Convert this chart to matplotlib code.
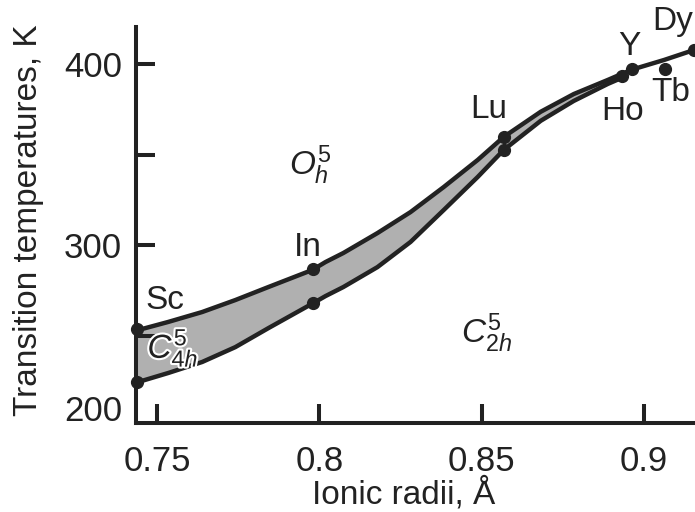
import numpy as np
import matplotlib
matplotlib.use("Agg")
import matplotlib.pyplot as plt
import matplotlib.patheffects as pe

plt.rcParams["font.family"] = ["Liberation Sans", "DejaVu Sans"]
plt.rcParams["mathtext.fontset"] = "custom"
plt.rcParams["mathtext.rm"] = "Liberation Sans"
plt.rcParams["mathtext.it"] = "Liberation Sans:italic"

INK = "#222222"
FILL = "#b0b0b0"

# upper boundary (O_h <-> C_4h)
upper_x = [0.7441, 0.7534, 0.7639, 0.7741, 0.7843, 0.7978, 0.8019, 0.8074,
           0.8179, 0.8281, 0.8383, 0.8488, 0.8568, 0.8682, 0.8784, 0.8889,
           0.8938, 0.8969, 0.9062, 0.9154]
upper_y = [253.0, 257.5, 263.0, 269.6, 276.8, 286.2, 290.6, 295.6,
           306.6, 318.2, 332.0, 347.0, 359.7, 373.6, 383.4, 391.2,
           395.0, 397.2, 402.2, 407.7]

# lower boundary (C_4h <-> C_2h)
lower_x = [0.7441, 0.7534, 0.7639, 0.7741, 0.7843, 0.7982, 0.8019, 0.8074,
           0.8179, 0.8281, 0.8383, 0.8488, 0.8568, 0.8682, 0.8784, 0.8889,
           0.8938]
lower_y = [224.3, 229.3, 235.4, 243.6, 254.1, 268.0, 271.8, 276.8,
           287.8, 301.7, 319.3, 337.6, 352.5, 368.6, 379.6, 389.0,
           392.8]

# measured compounds
pts_x = [0.7438, 0.7438, 0.7981, 0.7981, 0.8568, 0.8568, 0.8932, 0.8963, 0.9065, 0.9154]
pts_y = [253.5, 224.3, 286.7, 268.0, 359.7, 352.5, 393.4, 397.2, 397.2, 407.7]

# element labels
lab_text = ["Sc", "In", "Lu", "Y", "Dy", "Ho", "Tb"]
lab_x = [0.7525, 0.7966, 0.8522, 0.8954, 0.9090, 0.8935, 0.9083]
lab_y = [269.6, 298.9, 374.6, 409.4, 423.2, 373.5, 384.5]

fig = plt.figure(figsize=(6.95, 5.12), dpi=100)
ax = fig.add_axes([0.1957, 0.1738, 0.8043, 0.7734])

# two-phase band
n = len(lower_x)
ax.fill(upper_x[:n] + lower_x[::-1], upper_y[:n] + lower_y[::-1],
        color=FILL, lw=0, zorder=1)
ax.plot(upper_x, upper_y, color=INK, lw=3.2, solid_capstyle="round",
        solid_joinstyle="round", zorder=2, clip_on=False)
ax.plot(lower_x, lower_y, color=INK, lw=3.2, solid_capstyle="round",
        solid_joinstyle="round", zorder=2, clip_on=False)
ax.plot(pts_x, pts_y, "o", color=INK, ms=8.5, zorder=3, clip_on=False)

for t, x, y in zip(lab_text, lab_x, lab_y):
    ax.text(x, y, t, fontsize=24, color=INK, ha="center", va="center", clip_on=False)

ax.text(0.7972, 344.2, r"$O_h^{\mathrm{5}}$", fontsize=24, color=INK, ha="center", va="center")
ax.text(0.8515, 251.4, r"$C_{2h}^{\mathrm{5}}$", fontsize=24, color=INK, ha="center", va="center")
ax.text(0.7549, 243.1, r"$C_{\mathrm{4}h}^{\mathrm{5}}$", fontsize=24, color=INK,
        ha="center", va="center",
        path_effects=[pe.withStroke(linewidth=3, foreground="white")])

ax.set_xlim(0.74352, 0.91574)
ax.set_ylim(201.7, 420.4)
for s in ["top", "right"]:
    ax.spines[s].set_visible(False)
for s in ["left", "bottom"]:
    ax.spines[s].set_linewidth(2.9)
    ax.spines[s].set_color(INK)

ax.set_xticks([0.75, 0.8, 0.85, 0.9])
ax.set_xticklabels(["0.75", "0.8", "0.85", "0.9"])
ax.set_yticks([250, 300, 350, 400])
ax.set_yticklabels(["", "300", "", "400"])
ax.text(-0.025, 208, "200", transform=ax.get_yaxis_transform(), fontsize=25,
        color=INK, ha="right", va="center")
ax.tick_params(direction="in", length=14, width=2.9, color=INK,
               labelsize=25, labelcolor=INK)
ax.tick_params(axis="x", pad=16)
ax.tick_params(axis="y", pad=10)

ax.set_xlabel("Ionic radii, Å", fontsize=24, color=INK)
ax.set_ylabel("Transition temperatures, K", fontsize=24, color=INK)
ax.xaxis.set_label_coords(0.479, -0.137)
ax.yaxis.set_label_coords(-0.165, 0.513)

fig.savefig("out.png", dpi=100)
